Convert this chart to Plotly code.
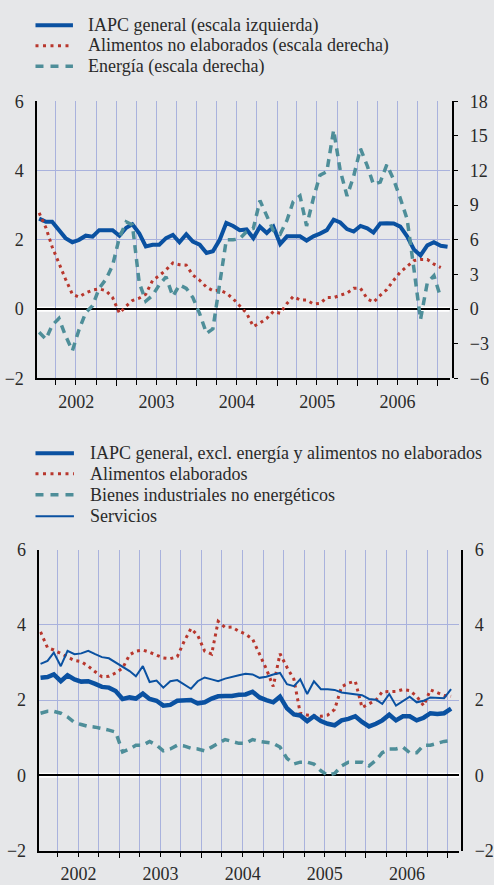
import plotly.graph_objects as go

# ---------------- data ----------------
months_top = [f"{y}-{m:02d}-15" for y in range(2002, 2008) for m in range(1, 13)][:62]   # Jan 2002 - Feb 2007
months_bot = months_top[:61]                                                             # Jan 2002 - Jan 2007

iapc_general = [2.61, 2.52, 2.52, 2.28, 2.05, 1.93, 2.0, 2.12, 2.09, 2.28, 2.28, 2.28,
                2.12, 2.35, 2.45, 2.19, 1.81, 1.86, 1.86, 2.05, 2.14, 1.93, 2.16, 1.95,
                1.86, 1.62, 1.67, 2.0, 2.49, 2.4, 2.28, 2.3, 2.05, 2.38, 2.2, 2.38,
                1.88, 2.1, 2.1, 2.1, 1.98, 2.1, 2.18, 2.28, 2.58, 2.5, 2.31, 2.24,
                2.4, 2.33, 2.21, 2.47, 2.48, 2.47, 2.38, 2.1, 1.72, 1.55, 1.84, 1.93,
                1.83, 1.8]
alimentos_no_elab = [8.34, 7.04, 5.4, 3.9, 2.6, 1.3, 1.05, 1.4, 1.65, 1.75, 1.6, 1.0,
                     -0.35, 0.28, 0.75, 0.95, 1.3, 2.5, 2.9, 3.4, 4.0, 3.85, 3.8, 2.95,
                     2.5, 1.9, 1.6, 1.65, 1.4, 0.9, 0.3, -0.35, -1.5, -1.2, -0.8, -0.2,
                     -0.35, 0.5, 1.1, 0.8, 0.8, 0.45, 0.5, 1.0, 1.0, 1.2, 1.4, 1.8,
                     1.8, 0.9, 0.6, 1.2, 1.7, 2.5, 3.2, 3.7, 4.2, 4.3, 4.3, 3.9,
                     3.6]
energia = [-2.0, -2.6, -1.4, -0.8, -2.3, -3.6, -1.8, -0.3, 0.3, 1.8, 2.6, 3.8,
           6.2, 7.55, 7.3, 2.3, 0.7, 1.2, 2.1, 2.8, 1.1, 2.1, 1.8, 1.0,
           -0.4, -2.1, -1.7, 2.1, 6.0, 6.0, 6.1, 6.7, 7.0, 9.4, 8.0, 6.8,
           6.5, 7.7, 9.3, 9.8, 7.2, 9.6, 11.6, 11.9, 15.5, 12.0, 9.8, 11.5,
           13.9, 12.4, 10.8, 11.0, 12.5, 11.2, 9.6, 7.8, 3.5, -0.9, 2.3, 2.9,
           1.0]

iapc_subyacente = [2.59, 2.61, 2.68, 2.5, 2.66, 2.55, 2.49, 2.5, 2.43, 2.35, 2.33, 2.24,
                   2.03, 2.07, 2.04, 2.17, 2.03, 1.98, 1.85, 1.87, 1.98, 2.0, 2.0, 1.91,
                   1.94, 2.04, 2.1, 2.11, 2.11, 2.14, 2.15, 2.22, 2.07, 2.0, 1.94, 2.09,
                   1.78, 1.62, 1.59, 1.44, 1.57, 1.44, 1.37, 1.33, 1.46, 1.5, 1.57, 1.42,
                   1.3, 1.37, 1.46, 1.61, 1.46, 1.57, 1.57, 1.46, 1.53, 1.65, 1.63, 1.65,
                   1.77]
alimentos_elab = [3.81, 3.39, 3.33, 3.24, 3.15, 3.05, 3.02, 2.9, 2.75, 2.62, 2.63, 2.72,
                  2.85, 3.2, 3.3, 3.33, 3.27, 3.2, 3.12, 3.1, 3.15, 3.55, 3.9, 3.72,
                  3.3, 3.22, 4.09, 3.93, 3.94, 3.83, 3.75, 3.62, 3.2, 2.83, 2.36, 3.23,
                  2.87, 2.55, 1.65, 1.6, 1.58, 1.57, 1.6, 1.75, 2.35, 2.45, 2.5, 1.8,
                  1.9, 2.0, 2.22, 2.23, 2.23, 2.28, 2.25, 2.1, 1.85, 2.27, 2.2, 2.12,
                  2.1]
bienes_ind = [1.65, 1.7, 1.7, 1.65, 1.55, 1.4, 1.35, 1.3, 1.28, 1.25, 1.2, 1.15,
              0.62, 0.7, 0.8, 0.8, 0.9, 0.8, 0.65, 0.7, 0.8, 0.78, 0.72, 0.7,
              0.65, 0.75, 0.85, 0.95, 0.9, 0.85, 0.85, 0.95, 0.9, 0.88, 0.85, 0.75,
              0.45, 0.3, 0.35, 0.35, 0.3, 0.12, 0.0, 0.05, 0.25, 0.35, 0.35, 0.35,
              0.25, 0.4, 0.6, 0.7, 0.7, 0.75, 0.6, 0.6, 0.8, 0.8, 0.85, 0.9,
              0.92]
servicios = [2.96, 3.04, 3.26, 2.9, 3.31, 3.22, 3.24, 3.31, 3.22, 3.14, 3.11, 3.0,
             2.87, 2.77, 2.63, 2.9, 2.48, 2.52, 2.33, 2.5, 2.53, 2.42, 2.3, 2.5,
             2.6, 2.55, 2.5, 2.57, 2.62, 2.66, 2.7, 2.68, 2.59, 2.62, 2.68, 2.72,
             2.42, 2.37, 2.55, 2.16, 2.5, 2.29, 2.29, 2.27, 2.2, 2.18, 2.14, 2.13,
             2.03, 2.01, 1.9, 2.16, 1.85, 1.98, 2.09, 1.94, 1.98, 2.07, 2.07, 2.05,
             2.29]

legend_top = ["IAPC general (escala izquierda)",
              "Alimentos no elaborados (escala derecha)",
              "Energía (escala derecha)"]
legend_bot = ["IAPC general, excl. energía y alimentos no elaborados",
              "Alimentos elaborados",
              "Bienes industriales no energéticos",
              "Servicios"]

# ---------------- style ----------------
W, H = 494, 885
BG = "#e6e7e9"
GRID = "#a9b2dd"
BLUE = "#0a51a1"
RED = "#b8372d"
TEAL = "#4e8e99"
TXT = "#2a2a2a"
FONT = "Liberation Serif, Times New Roman, serif"
FS = 18

def px(x):
    return x / W

def py(y):
    return 1 - y / H

fig = go.Figure()

# upper panel
fig.add_trace(go.Scatter(x=months_top, y=iapc_general, mode="lines", xaxis="x", yaxis="y",
                         line=dict(color=BLUE, width=4), showlegend=False, name=legend_top[0]))
fig.add_trace(go.Scatter(x=months_bot, y=alimentos_no_elab, mode="lines", xaxis="x", yaxis="y2",
                         line=dict(color=RED, width=3, dash="3px,4px"), showlegend=False, name=legend_top[1]))
fig.add_trace(go.Scatter(x=months_bot, y=energia, mode="lines", xaxis="x", yaxis="y2",
                         line=dict(color=TEAL, width=3.5, dash="8px,6px"), showlegend=False, name=legend_top[2]))

# lower panel
fig.add_trace(go.Scatter(x=months_bot, y=bienes_ind, mode="lines", xaxis="x2", yaxis="y3",
                         line=dict(color=TEAL, width=3.5, dash="8px,6px"), showlegend=False, name=legend_bot[2]))
fig.add_trace(go.Scatter(x=months_bot, y=alimentos_elab, mode="lines", xaxis="x2", yaxis="y3",
                         line=dict(color=RED, width=3, dash="3px,4px"), showlegend=False, name=legend_bot[1]))
fig.add_trace(go.Scatter(x=months_bot, y=servicios, mode="lines", xaxis="x2", yaxis="y3",
                         line=dict(color=BLUE, width=2), showlegend=False, name=legend_bot[3]))
fig.add_trace(go.Scatter(x=months_bot, y=iapc_subyacente, mode="lines", xaxis="x2", yaxis="y3",
                         line=dict(color=BLUE, width=4.5), showlegend=False, name=legend_bot[0]))
# invisible companion so that the right-hand scale of the lower panel is drawn
fig.add_trace(go.Scatter(x=months_bot, y=iapc_subyacente, mode="lines", xaxis="x2", yaxis="y4",
                         line=dict(color="rgba(0,0,0,0)", width=0), showlegend=False,
                         hoverinfo="skip", name=legend_bot[0]))

tickfont = dict(family=FONT, size=FS, color=TXT)

xcommon = dict(type="date", dtick="M12", tick0="2002-01-01", ticklabelmode="period",
               tickformat="%Y", showgrid=True, gridcolor=GRID, gridwidth=1,
               ticks="outside", ticklen=6, tickcolor="black", tickwidth=1,
               showline=True, linecolor="black", linewidth=1.5,
               minor=dict(dtick="M3", tick0="2002-01-01", ticks="outside", ticklen=5,
                          tickcolor="black", showgrid=True, gridcolor=GRID, gridwidth=1),
               tickfont=tickfont, zeroline=False)

top_dom = [py(377), py(93.3)]
bot_dom = [py(860), py(552)]

fig.update_layout(
    width=W, height=H, margin=dict(l=0, r=0, t=0, b=0),
    paper_bgcolor=BG, plot_bgcolor=BG,
    font=dict(family=FONT, size=FS, color=TXT),
    xaxis=dict(xcommon, domain=[px(37.7), px(456)], anchor="y",
               range=["2002-01-06", "2007-02-24"]),
    yaxis=dict(domain=top_dom, range=[-2, 6], dtick=2, anchor="x",
               showgrid=True, gridcolor=GRID, gridwidth=1,
               zeroline=True, zerolinecolor="black", zerolinewidth=2,
               showline=True, linecolor="black", linewidth=1.5,
               ticks="", ticklabelstandoff=8, tickfont=tickfont),
    yaxis2=dict(range=[-6, 18], dtick=3, overlaying="y", side="right",
                anchor="free", position=px(460),
                showgrid=False, zeroline=False,
                showline=True, linecolor="black", linewidth=1.5,
                ticks="outside", ticklen=4, tickcolor="black",
                ticklabelstandoff=8, tickfont=tickfont),
    xaxis2=dict(xcommon, domain=[px(40), px(466)], anchor="y3",
                range=["2002-01-10", "2007-02-21"]),
    yaxis3=dict(domain=bot_dom, range=[-2, 6], dtick=2, anchor="x2",
                showgrid=True, gridcolor=GRID, gridwidth=1,
                zeroline=True, zerolinecolor="black", zerolinewidth=2,
                showline=True, linecolor="black", linewidth=1.5,
                ticks="", ticklabelstandoff=8, tickfont=tickfont),
    yaxis4=dict(range=[-2, 6], dtick=2, overlaying="y3", side="right",
                anchor="free", position=px(469),
                showgrid=False, zeroline=False,
                showline=True, linecolor="black", linewidth=1.5,
                ticks="", ticklabelstandoff=8, tickfont=tickfont),
)

shapes = []
# white halo under the zero lines
shapes.append(dict(type="line", xref="x domain", yref="y", x0=0, x1=1, y0=0, y1=0,
                   line=dict(color="white", width=5), layer="below"))
shapes.append(dict(type="line", xref="x2 domain", yref="y3", x0=0, x1=1, y0=0, y1=0,
                   line=dict(color="white", width=5), layer="below"))

# legends (sample line + text)
annotations = []
top_rows = [15.5, 36.5, 57.5]
bot_rows = [453.5, 474.5, 496, 518]
styles_top = [dict(color=BLUE, width=4), dict(color=RED, width=3, dash="3px,4.5px"),
              dict(color=TEAL, width=3.5, dash="8px,7px")]
styles_bot = [dict(color=BLUE, width=4), dict(color=RED, width=3, dash="3px,4.5px"),
              dict(color=TEAL, width=3.5, dash="8px,7px"), dict(color=BLUE, width=2)]
for label, yy, st in zip(legend_top, top_rows, styles_top):
    shapes.append(dict(type="line", xref="paper", yref="paper", x0=px(36), x1=px(74),
                       y0=py(yy), y1=py(yy), line=st))
    annotations.append(dict(text=label, xref="paper", yref="paper", x=px(87), y=py(yy),
                            xanchor="left", yanchor="middle", showarrow=False,
                            font=dict(family=FONT, size=FS, color=TXT)))
for label, yy, st in zip(legend_bot, bot_rows, styles_bot):
    shapes.append(dict(type="line", xref="paper", yref="paper", x0=px(36), x1=px(75),
                       y0=py(yy), y1=py(yy), line=st))
    annotations.append(dict(text=label, xref="paper", yref="paper", x=px(89), y=py(yy),
                            xanchor="left", yanchor="middle", showarrow=False,
                            font=dict(family=FONT, size=FS, color=TXT)))

fig.update_layout(shapes=shapes, annotations=annotations)

page_js = ("var h=document.documentElement, b=document.body;"
           "h.style.margin='0';h.style.padding='0';h.style.overflow='hidden';"
           "b.style.margin='0';b.style.padding='0';b.style.overflow='hidden';"
           "b.style.background='" + BG + "';"
           "var d=document.getElementById('{plot_id}');"
           "d.style.position='fixed';d.style.left='0px';d.style.top='0px';")

fig.write_html("out.html", post_script=page_js, config={"displayModeBar": False})
